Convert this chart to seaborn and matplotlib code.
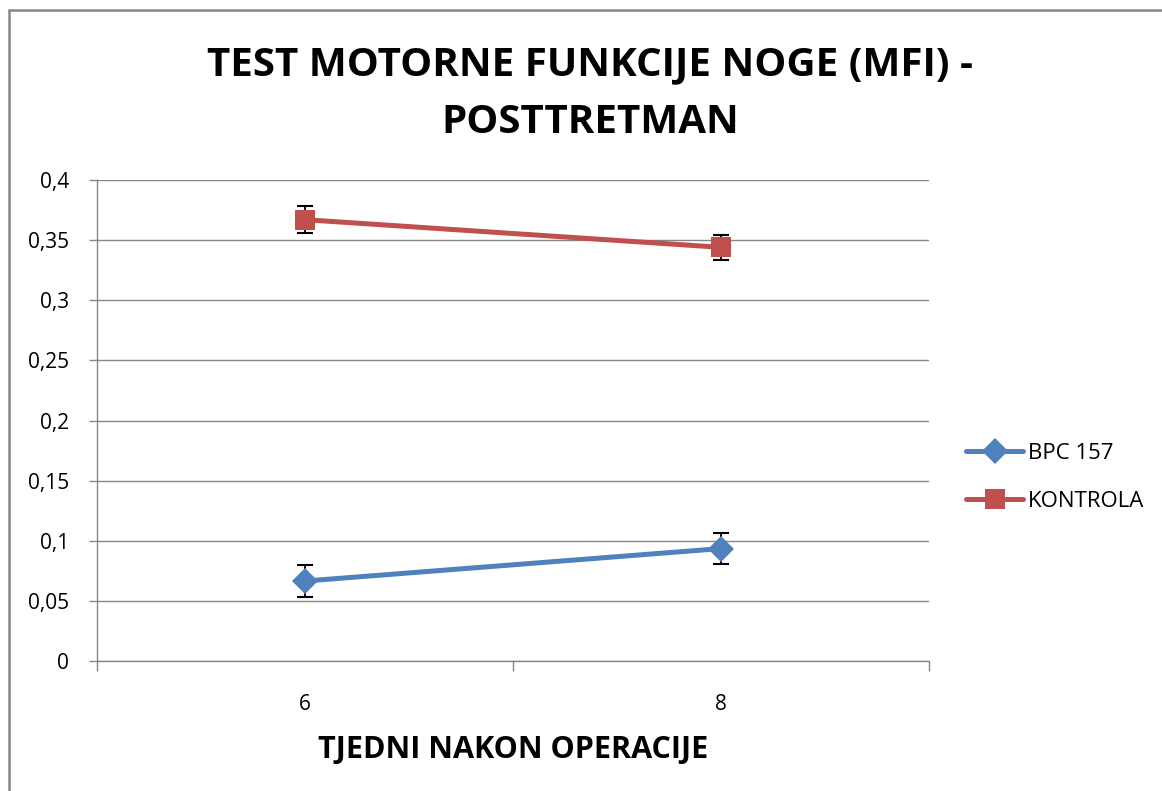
import matplotlib
matplotlib.use("Agg")
import matplotlib.pyplot as plt
import seaborn as sns
import pandas as pd
from matplotlib.patches import Rectangle

weeks = ["6", "8"]
series = ["BPC 157", "KONTROLA"]
bpc_vals = [0.0665, 0.0935]
bpc_err = [0.013, 0.013]
ctrl_vals = [0.367, 0.344]
ctrl_err = [0.011, 0.0105]
yticks = [0, 0.05, 0.1, 0.15, 0.2, 0.25, 0.3, 0.35, 0.4]
ytick_labels = ["0", "0,05", "0,1", "0,15", "0,2", "0,25", "0,3", "0,35", "0,4"]

sns.set_theme(style="white")
plt.rcParams['font.family'] = ['Open Sans', 'DejaVu Sans']
plt.rcParams['text.color'] = 'black'
plt.rcParams['xtick.color'] = 'black'
plt.rcParams['ytick.color'] = 'black'
plt.rcParams['axes.labelcolor'] = 'black'

fig = plt.figure(figsize=(11.62, 7.91), dpi=100)
ax = fig.add_axes([97/1162, 1-661/791, (929-97)/1162, (661-180)/791])

df = pd.DataFrame({
    "x": list(range(len(weeks))) * 2,
    "val": bpc_vals + ctrl_vals,
    "err": bpc_err + ctrl_err,
    "series": [series[0]] * len(weeks) + [series[1]] * len(weeks),
})
colors = {"BPC 157": "#4F81BD", "KONTROLA": "#C0504D"}
markers = {"BPC 157": "D", "KONTROLA": "s"}
sizes = {"BPC 157": 13, "KONTROLA": 14}

for s in series:
    sub = df[df.series == s]
    ax.errorbar(sub.x, sub.val, yerr=sub.err, fmt="none", ecolor="black",
                elinewidth=1.3, capsize=6, capthick=1.5, zorder=2)
    sns.lineplot(data=sub, x="x", y="val", ax=ax, color=colors[s], lw=3.6,
                 marker=markers[s], markersize=sizes[s], markeredgewidth=0,
                 label=s, zorder=3)

ax.set_xlim(-0.5, len(weeks) - 0.5)
ax.set_ylim(0, 0.4)
ax.set_yticks(yticks)
ax.set_yticklabels(ytick_labels, fontsize=15)
ax.set_xticks(range(len(weeks)))
ax.set_xticklabels(weeks, fontsize=15)
ax.set_xticks([-0.5, 0.5, 1.5], minor=True)
ax.tick_params(axis="x", which="major", length=0, pad=24)
ax.tick_params(axis="x", which="minor", length=7, color="#868686", width=1, direction="out", bottom=True)
ax.tick_params(axis="y", length=6, color="#868686", width=1, direction="out", left=True, pad=14,
               labelcolor="black")
ax.tick_params(axis="x", labelcolor="black")
ax.yaxis.grid(True, color="#868686", lw=1)
ax.xaxis.grid(False)
for sp in ["top", "right"]:
    ax.spines[sp].set_visible(False)
for sp in ["left", "bottom"]:
    ax.spines[sp].set_color("#868686")
    ax.spines[sp].set_linewidth(1)
ax.set_ylabel("")
ax.set_xlabel("TJEDNI NAKON OPERACIJE", fontsize=22, fontweight="bold", labelpad=14, color="black")

leg = ax.legend(loc="center left", frameon=False, fontsize=16, handlelength=2.6,
                labelspacing=1.2, handletextpad=0.2, bbox_to_anchor=(1.02, 0.382))
for t in leg.get_texts():
    t.set_color("black")

fig.suptitle("TEST MOTORNE FUNKCIJE NOGE (MFI) -\nPOSTTRETMAN", x=0.508, y=0.943,
             fontsize=29, fontweight="bold", linespacing=1.62, color="black")

fig.patches.append(Rectangle((9/1162, -0.5), 2, 0.5 + 1 - 10/791, transform=fig.transFigure,
                             fill=False, edgecolor="#868686", lw=1.8))

fig.savefig("out.png", dpi=100)
